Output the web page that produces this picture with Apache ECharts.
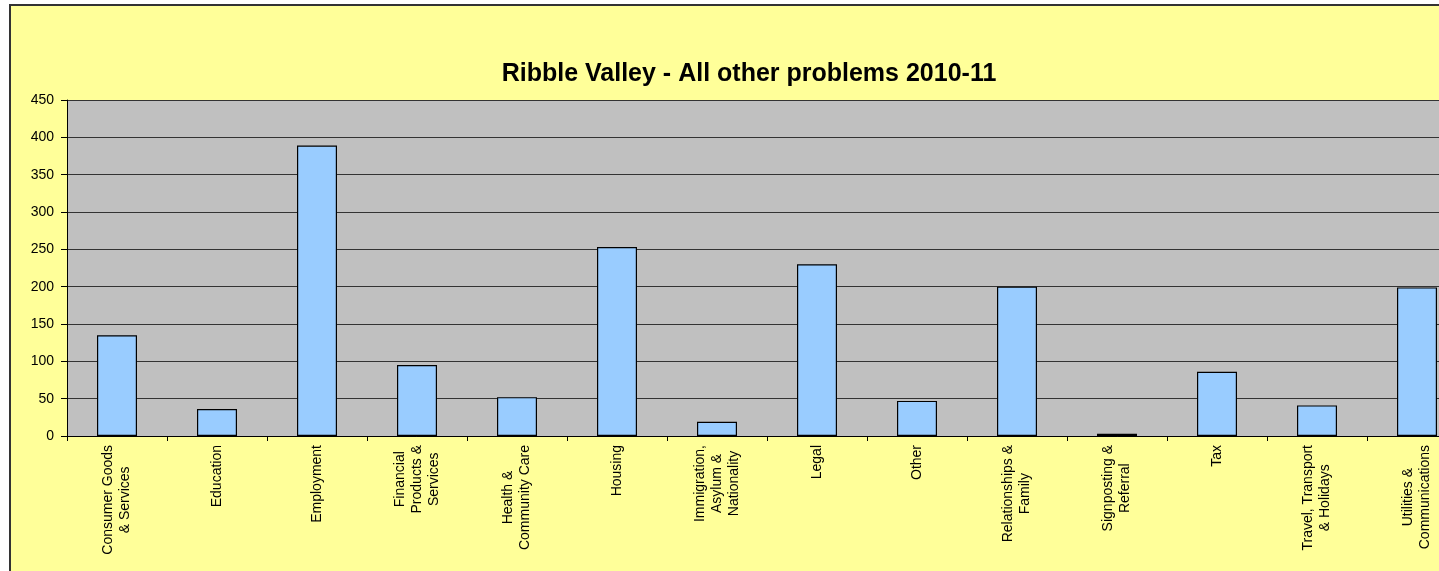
<!DOCTYPE html>
<html>
<head>
<meta charset="utf-8">
<script src="https://cdn.jsdelivr.net/npm/echarts@6/dist/echarts.min.js"></script>
<style>
  html, body { margin: 0; padding: 0; width: 1439px; height: 571px; overflow: hidden; background: #ffffff; }
  #frame { position: absolute; left: 9px; top: 4px; width: 1476px; height: 600px;
           border-left: 2px solid #333; border-top: 2px solid #333; background: #FFFF99; }
  #chart { width: 1476px; height: 600px; }
</style>
</head>
<body>
<div id="frame"><div id="chart"></div></div>
<script>
const titleText = 'Ribble Valley - All other problems 2010-11';
const categories = [
  'Consumer Goods\n& Services',
  'Education',
  'Employment',
  'Financial\nProducts &\nServices',
  'Health &\nCommunity Care',
  'Housing',
  'Immigration,\nAsylum &\nNationality',
  'Legal',
  'Other',
  'Relationships &\nFamily',
  'Signposting &\nReferral',
  'Tax',
  'Travel, Transport\n& Holidays',
  'Utilities &\nCommunications'
];
const values = [135, 36, 389, 95, 52, 253, 19, 230, 47, 200, 3, 86, 41, 199];
const yMin = 0, yMax = 450, yStep = 50;

const chart = echarts.init(document.getElementById('chart'), null, { renderer: 'canvas' });
chart.setOption({
  backgroundColor: '#FFFF99',
  animation: false,
  title: {
    text: titleText,
    left: 'center',
    top: 51,
    textStyle: { fontFamily: 'Liberation Sans, Arial', fontWeight: 'bold', fontSize: 25, color: '#000' }
  },
  grid: {
    left: 56, right: 20, top: 94, bottom: 170,
    show: true, backgroundColor: '#C0C0C0', borderWidth: 0
  },
  xAxis: {
    type: 'category',
    data: categories,
    axisLine: { show: true, lineStyle: { color: '#000', width: 1 } },
    axisTick: { show: true, inside: false, length: 5, lineStyle: { color: '#000' } },
    axisLabel: {
      rotate: 90,
      interval: 0,
      margin: 9,
      color: '#000',
      fontFamily: 'Liberation Sans, Arial',
      fontSize: 14,
      lineHeight: 17,
      formatter: function (v) {
        return v.split('\n').map(function (l) { return '{c|' + l + '}'; }).join('\n');
      },
      rich: { c: { align: 'center', fontFamily: 'Liberation Sans, Arial', fontSize: 14, lineHeight: 17, color: '#000' } }
    },
    splitLine: { show: false }
  },
  yAxis: {
    type: 'value',
    min: yMin, max: yMax, interval: yStep,
    axisLine: { show: true, lineStyle: { color: '#000', width: 1 } },
    axisTick: { show: true, inside: false, length: 6, lineStyle: { color: '#000' } },
    axisLabel: { margin: 13, color: '#000', fontFamily: 'Liberation Sans, Arial', fontSize: 14 },
    splitLine: { show: true, lineStyle: { color: '#333', width: 1 } }
  },
  series: [{
    type: 'bar',
    data: values,
    barWidth: '40%',
    itemStyle: { color: '#99CCFF', borderColor: '#000', borderWidth: 1.2 }
  }]
});
</script>
</body>
</html>
